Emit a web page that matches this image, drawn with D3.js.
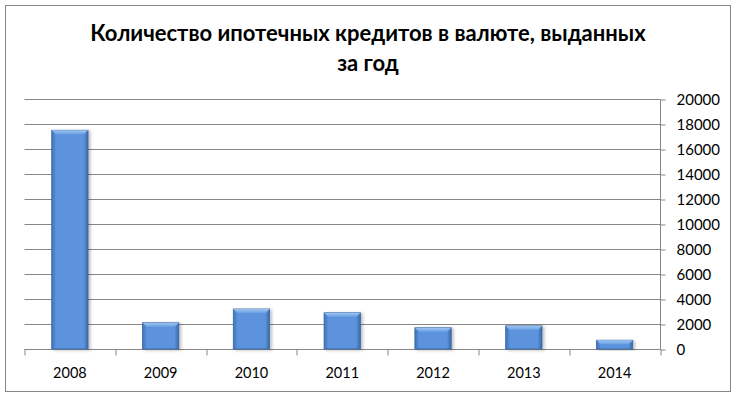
<!DOCTYPE html>
<html>
<head>
<meta charset="utf-8">
<script src="https://cdn.jsdelivr.net/npm/d3@7"></script>
<style>
  body { margin: 0; background: #fff; }
  text { font-family: Lato, "Open Sans", sans-serif; fill: #000; }
</style>
</head>
<body>
<div id="vis"></div>
<script>
// Data
var years = ["2008", "2009", "2010", "2011", "2012", "2013", "2014"];
var loans = [17500, 2100, 3200, 2900, 1700, 1850, 700];
var yTicks = [0, 2000, 4000, 6000, 8000, 10000, 12000, 14000, 16000, 18000, 20000];
var titleLines = ["Количество ипотечных кредитов в валюте, выданных", "за год"];

var width = 736, height = 398;
var margin = {top: 99, right: 76, bottom: 49, left: 24.5};
var drawWidth = width - margin.left - margin.right;
var drawHeight = height - margin.top - margin.bottom;

var svg = d3.select("#vis").append("svg").attr("width", width).attr("height", height);

// outer frame
svg.append("rect").attr("x", 5.5).attr("y", 5.5).attr("width", 725).attr("height", 386)
    .attr("fill", "#fff").attr("stroke", "#868686").attr("stroke-width", 1);

// title
svg.selectAll("text.title").data(titleLines).enter().append("text")
    .attr("class", "title")
    .attr("x", 368).attr("y", function(d, i) { return 41 + i * 30; })
    .attr("text-anchor", "middle")
    .style("font-size", "22px").style("font-weight", "bold")
    .text(function(d) { return d; });

// gradients for the bevelled bars
var defs = svg.append("defs");
var grad = defs.append("linearGradient").attr("id", "barGrad").attr("x1", 0).attr("x2", 1).attr("y1", 0).attr("y2", 0);
grad.append("stop").attr("offset", "0%").attr("stop-color", "#3f71b8");
grad.append("stop").attr("offset", "12%").attr("stop-color", "#5b93dc");
grad.append("stop").attr("offset", "88%").attr("stop-color", "#5b93dc");
grad.append("stop").attr("offset", "100%").attr("stop-color", "#3a68aa");
var topGrad = defs.append("linearGradient").attr("id", "topGrad").attr("x1", 0).attr("x2", 0).attr("y1", 0).attr("y2", 1);
topGrad.append("stop").attr("offset", "0%").attr("stop-color", "#9cc4f2");
topGrad.append("stop").attr("offset", "100%").attr("stop-color", "#6da1e4");
var shadow = defs.append("filter").attr("id", "shadow").attr("x", "-20%").attr("y", "-5%").attr("width", "150%").attr("height", "120%");
shadow.append("feDropShadow").attr("dx", 2).attr("dy", 1).attr("stdDeviation", 1.5).attr("flood-color", "#000").attr("flood-opacity", 0.25);

var g = svg.append("g").attr("transform", "translate(" + margin.left + "," + margin.top + ")");

var xScale = d3.scaleBand().domain(years).range([0, drawWidth]).paddingInner(0.6).paddingOuter(0.3);
var yScale = d3.scaleLinear().domain([0, 20000]).range([drawHeight, 0]);

// gridlines
g.selectAll("line.grid").data(yTicks).enter().append("line")
    .attr("x1", 0).attr("x2", drawWidth)
    .attr("y1", function(d) { return Math.round(yScale(d)) + 0.5; })
    .attr("y2", function(d) { return Math.round(yScale(d)) + 0.5; })
    .attr("stroke", "#878787").attr("stroke-width", 1);

// right axis
var yAxis = d3.axisRight(yScale).tickValues(yTicks).tickSize(5).tickPadding(11).tickFormat(d3.format("d"));
var yG = g.append("g").attr("transform", "translate(" + (drawWidth + 0.5) + ",0.5)").call(yAxis);
yG.select(".domain").attr("stroke", "#878787").attr("d", "M0,0V" + drawHeight);
yG.selectAll(".tick line").attr("stroke", "#878787");
yG.selectAll(".tick text").style("font-size", "15px").attr("dy", "0.35em");

// bottom axis with ticks at band boundaries
var xG = g.append("g").attr("transform", "translate(0," + (drawHeight + 0.5) + ")");
xG.append("line").attr("x1", 0).attr("x2", drawWidth).attr("stroke", "#878787");
var step = xScale.step();
xG.selectAll("line.tk").data(d3.range(years.length + 1)).enter().append("line")
    .attr("x1", function(i) { return Math.round(i * step) + 0.5; })
    .attr("x2", function(i) { return Math.round(i * step) + 0.5; })
    .attr("y1", 0).attr("y2", 6).attr("stroke", "#878787");
xG.selectAll("text").data(years).enter().append("text")
    .attr("x", function(d) { return xScale(d) + xScale.bandwidth() / 2; })
    .attr("y", 28).attr("text-anchor", "middle").style("font-size", "14.5px")
    .text(function(d) { return d; });

// bars
var bars = g.selectAll("g.bar").data(years).enter().append("g").attr("class", "bar");
bars.append("rect")
    .attr("x", function(d) { return xScale(d); })
    .attr("y", function(d, i) { return yScale(loans[i]); })
    .attr("width", xScale.bandwidth())
    .attr("height", function(d, i) { return drawHeight - yScale(loans[i]); })
    .attr("fill", "url(#barGrad)").attr("stroke", "#3b669f").attr("stroke-width", 0.8)
    .attr("filter", "url(#shadow)");
// top bevel
bars.append("path")
    .attr("d", function(d, i) {
        var x0 = xScale(d), w = xScale.bandwidth(), y0 = yScale(loans[i]), b = 4;
        return "M" + x0 + "," + y0 + "H" + (x0 + w) + "L" + (x0 + w - b) + "," + (y0 + b) + "H" + (x0 + b) + "Z";
    })
    .attr("fill", "url(#topGrad)");
</script>
</body>
</html>
